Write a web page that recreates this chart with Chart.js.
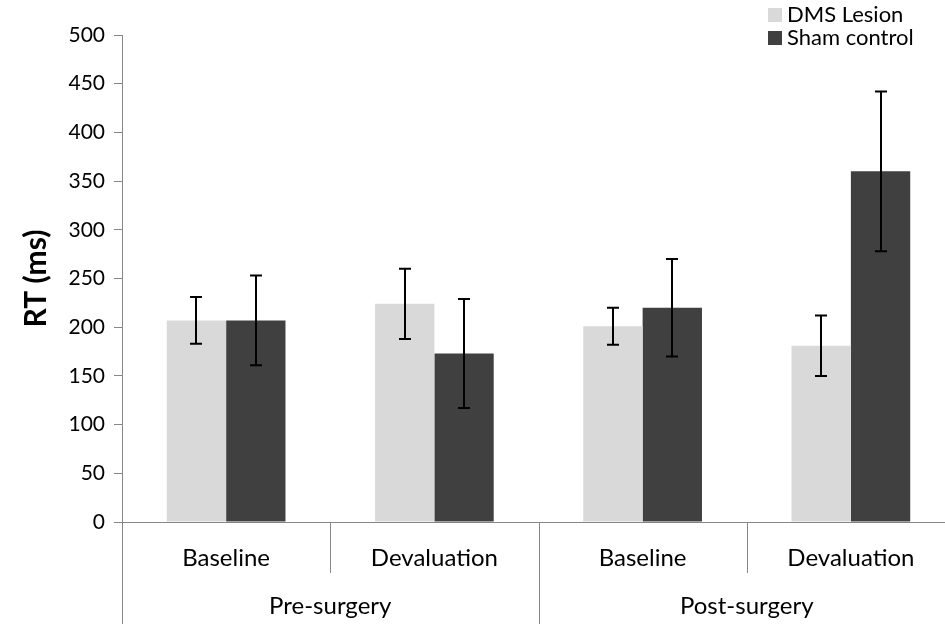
<!DOCTYPE html>
<html>
<head>
<meta charset="utf-8">
<script src="https://cdn.jsdelivr.net/npm/chart.js@4/dist/chart.umd.min.js"></script>
<style>
  html, body { margin: 0; padding: 0; background: #fff; overflow: hidden; }
  #wrap { width: 955px; height: 624px; }
</style>
</head>
<body>
<div id="wrap"><canvas id="rtChart"></canvas></div>
<script>
// データ
const categories = ["Baseline", "Devaluation", "Baseline", "Devaluation"];
const groups = ["Pre-surgery", "Post-surgery"];
const seriesNames = ["DMS Lesion", "Sham control"];
const dmsMean = [207, 224, 201, 181];
const dmsErr = [24, 36, 19, 31];
const shamMean = [207, 173, 220, 360];
const shamErr = [46, 56, 50, 82];
const yTicks = [0, 50, 100, 150, 200, 250, 300, 350, 400, 450, 500];

const FONT = "Lato, 'Open Sans', sans-serif";
const AXIS_COLOR = "#868686";

// エラーバー
const errorBars = {
    id: "errorBars",
    afterDatasetsDraw(chart) {
        const ctx = chart.ctx;
        const yScale = chart.scales.y;
        ctx.save();
        ctx.strokeStyle = "#000";
        ctx.lineWidth = 2;
        chart.data.datasets.forEach(function (ds, i) {
            const meta = chart.getDatasetMeta(i);
            meta.data.forEach(function (bar, j) {
                const v = ds.data[j];
                const e = ds.errors[j];
                const top = yScale.getPixelForValue(v + e);
                const bot = yScale.getPixelForValue(v - e);
                const x = Math.round(bar.x);
                ctx.beginPath();
                ctx.moveTo(x, top);
                ctx.lineTo(x, bot);
                ctx.moveTo(x - 6, top);
                ctx.lineTo(x + 6, top);
                ctx.moveTo(x - 6, bot);
                ctx.lineTo(x + 6, bot);
                ctx.stroke();
            });
        });
        ctx.restore();
    }
};

// 2段のx軸ラベルと区切り線、凡例
const axisExtras = {
    id: "axisExtras",
    afterDraw(chart) {
        const ctx = chart.ctx;
        const xScale = chart.scales.x;
        const area = chart.chartArea;
        const step = xScale.getPixelForValue(1) - xScale.getPixelForValue(0);
        ctx.save();
        ctx.strokeStyle = AXIS_COLOR;
        ctx.lineWidth = 1;
        for (let i = 0; i <= categories.length; i++) {
            const x = Math.round(xScale.getPixelForValue(i) - step / 2) + 0.5;
            const longLine = (i % 2 === 0);
            ctx.beginPath();
            ctx.moveTo(x, area.bottom);
            ctx.lineTo(x, longLine ? chart.height : area.bottom + 51);
            ctx.stroke();
        }
        ctx.fillStyle = "#000";
        ctx.font = "24px " + FONT;
        ctx.textAlign = "center";
        ctx.textBaseline = "middle";
        groups.forEach(function (g, k) {
            const x = (xScale.getPixelForValue(2 * k) + xScale.getPixelForValue(2 * k + 1)) / 2;
            ctx.fillText(g, x, 606);
        });

        // 凡例
        ctx.font = "22px " + FONT;
        ctx.textAlign = "left";
        ctx.textBaseline = "middle";
        chart.data.datasets.forEach(function (ds, i) {
            const y = 15 + i * 23;
            ctx.fillStyle = ds.backgroundColor;
            ctx.fillRect(768, y - 7, 14, 14);
            ctx.fillStyle = "#000";
            ctx.fillText(ds.label, 787, y);
        });
        ctx.restore();
    }
};

new Chart(document.getElementById("rtChart"), {
    type: "bar",
    data: {
        labels: categories,
        datasets: [
            {
                label: seriesNames[0],
                data: dmsMean,
                errors: dmsErr,
                backgroundColor: "#D9D9D9",
                categoryPercentage: 0.57,
                barPercentage: 1.0,
            },
            {
                label: seriesNames[1],
                data: shamMean,
                errors: shamErr,
                backgroundColor: "#404040",
                categoryPercentage: 0.57,
                barPercentage: 1.0,
            },
        ],
    },
    options: {
        responsive: true,
        maintainAspectRatio: false,
        animation: false,
        layout: { padding: { top: 35, left: 0, right: 0, bottom: 0 } },
        plugins: {
            legend: { display: false },
            tooltip: { enabled: false },
        },
        scales: {
            x: {
                grid: { display: false, drawTicks: false, tickLength: 0 },
                border: { display: true, color: AXIS_COLOR, width: 1 },
                ticks: {
                    color: "#000",
                    padding: 22,
                    font: { family: FONT, size: 24 },
                    maxRotation: 0,
                },
                afterFit(scale) { scale.height = 102; },
            },
            y: {
                min: 0,
                max: 500,
                afterBuildTicks(scale) {
                    scale.ticks = yTicks.map(function (v) { return { value: v }; });
                },
                grid: {
                    drawOnChartArea: false,
                    drawTicks: true,
                    tickLength: 8,
                    color: AXIS_COLOR,
                },
                border: { display: true, color: AXIS_COLOR, width: 1 },
                ticks: {
                    color: "#000",
                    padding: 9,
                    font: { family: FONT, size: 21 },
                },
                title: {
                    display: true,
                    text: "RT (ms)",
                    color: "#000",
                    font: { family: FONT, size: 30, weight: "bold" },
                    padding: { top: 18, bottom: 0 },
                },
                afterFit(scale) { scale.width = 122; },
            },
        },
    },
    plugins: [errorBars, axisExtras],
});
</script>
</body>
</html>
